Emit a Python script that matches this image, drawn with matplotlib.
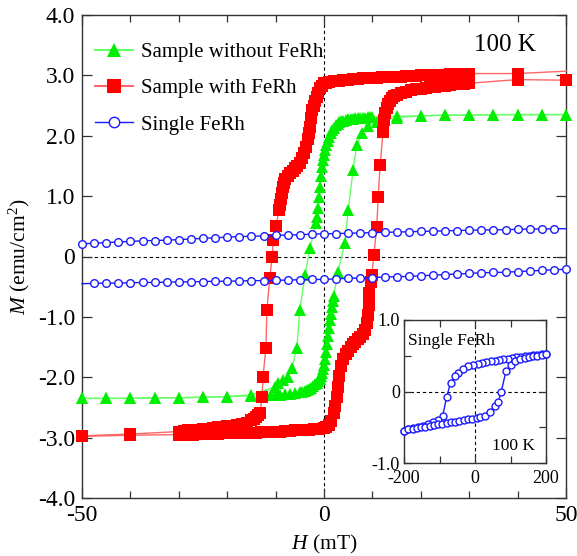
import matplotlib
matplotlib.use("Agg")
import matplotlib.pyplot as plt
from matplotlib.lines import Line2D

plt.rcParams['font.family'] = ['Liberation Serif', 'DejaVu Serif']
plt.rcParams['mathtext.fontset'] = 'custom'
plt.rcParams['mathtext.rm'] = 'Liberation Serif'
plt.rcParams['mathtext.it'] = 'Liberation Serif:italic'

# ---------------- data (H in mT, M in emu/cm^2) ----------------
# Sample without FeRh: descending branch (+50 -> -50)
g_dn_H = [50, 45, 40, 35, 30, 25, 20, 15,
          10, 9.5, 9, 8.5, 8, 7.5, 7, 6.5, 6, 5.5, 5, 4.5, 4, 3.6, 3.2, 2.8, 2.4, 2.0,
          1.7, 1.4, 1.1, 0.8, 0.5, 0.2, 0.0, -0.2, -0.4, -0.6, -0.8, -1.0, -1.2, -1.4, -1.6,
          -2.9, -3.9, -5.0, -5.6, -6.6, -7.4, -8.5, -9.5, -10.1,
          -15, -20, -25, -30, -35, -40, -45, -50]
g_dn_M = [2.35, 2.35, 2.35, 2.35, 2.34, 2.34, 2.33, 2.32,
          2.31, 2.31, 2.31, 2.30, 2.30, 2.30, 2.29, 2.29, 2.28, 2.28, 2.27, 2.26, 2.25, 2.24, 2.22, 2.20, 2.17, 2.13,
          2.09, 2.04, 1.98, 1.91, 1.84, 1.76, 1.68, 1.60, 1.48, 1.33, 1.15, 0.98, 0.80, 0.66, 0.55,
          0.14, -0.30, -0.88, -1.51, -1.84, -1.99, -2.04, -2.09, -2.16,
          -2.29, -2.32, -2.33, -2.34, -2.34, -2.35, -2.35, -2.35]

# Sample without FeRh: ascending branch (-50 -> +50)
g_up_H = [-50, -45, -40, -35, -30, -25, -20, -15,
          -12, -11, -10, -9, -8, -7, -6, -5, -4.5, -4, -3.5, -3, -2.6, -2.2, -1.8, -1.5,
          -1.2, -0.9, -0.6, -0.4, -0.2, 0.0, 0.2, 0.4, 0.6, 0.8, 1.0, 1.2, 1.4, 1.6, 1.8, 2.0,
          2.9, 4.3, 5.0, 6.0, 6.8, 7.9, 9.1, 11.0,
          15, 20, 25, 30, 35, 40, 45, 50]
g_up_M = [-2.35, -2.35, -2.35, -2.34, -2.34, -2.33, -2.32, -2.31,
          -2.30, -2.30, -2.29, -2.29, -2.28, -2.27, -2.26, -2.25, -2.24, -2.23, -2.21, -2.19, -2.17, -2.15, -2.12, -2.10,
          -2.07, -2.03, -1.98, -1.93, -1.87, -1.80, -1.70, -1.58, -1.45, -1.32, -1.18, -1.06, -0.95, -0.84, -0.74, -0.65,
          -0.25, 0.22, 0.77, 1.43, 1.85, 2.05, 2.16, 2.23,
          2.30, 2.33, 2.34, 2.34, 2.35, 2.35, 2.35, 2.35]

# Sample with FeRh: descending branch
r_dn_H = [50, 40,
          30, 29, 28, 27, 26, 25, 24, 23, 22, 21, 20, 19, 18, 17, 16, 15, 14, 13, 12, 11,
          10, 9, 8, 7, 6, 5, 4, 3, 2, 1,
          0.5, 0, -0.4, -0.8, -1.2, -1.5, -1.8, -2.1, -2.4, -2.6, -2.8, -3.1, -3.4, -3.8, -4.2, -4.6,
          -5.0, -5.5, -6.0, -6.5, -7.0, -7.5, -8.0, -8.3, -8.5, -8.7, -8.9, -9.1, -9.3,
          -9.9, -10.5, -10.7, -11.2, -11.8, -12.0, -12.6, -12.8, -13.2,
          -13.6, -14, -14.5, -15, -16, -17, -18, -19, -20, -21, -22, -23, -24, -25, -26, -27, -28, -29, -30,
          -40, -50]
r_dn_M = [3.07, 3.03,
          3.03, 3.03, 3.02, 3.02, 3.02, 3.01, 3.01, 3.01, 3.00, 3.00, 3.00, 2.99, 2.99, 2.99, 2.98, 2.98, 2.97, 2.97, 2.97, 2.96,
          2.96, 2.95, 2.95, 2.94, 2.94, 2.93, 2.92, 2.91, 2.90, 2.89,
          2.88, 2.87, 2.83, 2.79, 2.70, 2.64, 2.58, 2.50, 2.43, 2.30, 2.15, 2.05, 1.95, 1.82, 1.72, 1.63,
          1.55, 1.50, 1.46, 1.42, 1.38, 1.34, 1.29, 1.22, 1.15, 1.05, 0.95, 0.85, 0.77,
          0.51, 0.28, 0.00, -0.35, -0.88, -1.51, -2.00, -2.32, -2.59,
          -2.63, -2.66, -2.69, -2.71, -2.75, -2.77, -2.79, -2.80, -2.81, -2.82, -2.83, -2.84, -2.85, -2.86, -2.87, -2.87, -2.88, -2.89, -2.90,
          -2.94, -2.97]

# Sample with FeRh: ascending branch
r_up_H = [-50, -40,
          -30, -29, -28, -27, -26, -25, -24, -23, -22, -21, -20, -19, -18, -17, -16, -15, -14, -13, -12, -11,
          -10, -9, -8, -7, -6, -5, -4, -3, -2, -1,
          0, 0.5, 1.0, 1.5, 2.0, 2.3, 2.6, 2.9, 3.2, 3.6, 4.0, 4.5, 5.0, 5.5, 6.0, 6.5, 7.0, 7.5, 8.0, 8.4, 8.8, 9.1,
          9.3, 9.4, 9.7, 9.9, 10.3, 10.9, 11.2, 11.6, 12.2,
          12.4, 12.7, 13.0, 13.3, 13.6, 14.0, 14.5, 15, 16, 17, 18, 19, 20, 21, 22, 23, 24, 25, 26, 27, 28, 29, 30,
          40, 50]
r_up_M = [-2.98, -2.96,
          -2.95, -2.95, -2.95, -2.95, -2.94, -2.94, -2.94, -2.94, -2.94, -2.93, -2.93, -2.93, -2.93, -2.92, -2.92, -2.92, -2.92, -2.91, -2.91, -2.90,
          -2.90, -2.90, -2.89, -2.89, -2.88, -2.88, -2.87, -2.87, -2.86, -2.85,
          -2.84, -2.82, -2.79, -2.72, -2.60, -2.48, -2.33, -2.16, -1.98, -1.82, -1.70, -1.62, -1.56, -1.50, -1.45, -1.41, -1.37, -1.33, -1.29, -1.22, -1.10, -0.97,
          -0.80, -0.60, -0.43, -0.30, 0.03, 0.49, 0.99, 1.52, 2.06,
          2.26, 2.38, 2.46, 2.53, 2.58, 2.62, 2.66, 2.68, 2.71, 2.73, 2.75, 2.77, 2.78, 2.79, 2.80, 2.81, 2.82, 2.83, 2.84, 2.85, 2.86, 2.86, 2.87,
          2.93, 2.92]

# Single FeRh, main panel (field step 2.5 mT)
b_H = [-50, -47.5, -45, -42.5, -40, -37.5, -35, -32.5, -30, -27.5, -25, -22.5, -20, -17.5, -15, -12.5,
       -10, -7.5, -5, -2.5, 0, 2.5, 5, 7.5, 10, 12.5, 15, 17.5, 20, 22.5, 25, 27.5, 30, 32.5, 35, 37.5,
       40, 42.5, 45, 47.5, 50]
b_upper_M = [0.21, 0.22, 0.23, 0.24, 0.25, 0.26, 0.265, 0.27, 0.28, 0.29, 0.30, 0.31, 0.32, 0.33, 0.335, 0.34,
             0.35, 0.355, 0.36, 0.37, 0.375, 0.38, 0.385, 0.39, 0.395, 0.40, 0.405, 0.41, 0.415, 0.42, 0.425, 0.43,
             0.435, 0.44, 0.44, 0.445, 0.45, 0.455, 0.455, 0.46, 0.46]
b_lower_M = [-0.45, -0.445, -0.44, -0.44, -0.435, -0.43, -0.43, -0.425, -0.42, -0.42, -0.415, -0.41, -0.41, -0.405, -0.40, -0.40,
             -0.395, -0.39, -0.385, -0.38, -0.38, -0.37, -0.36, -0.355, -0.35, -0.34, -0.335, -0.33, -0.32, -0.31, -0.30, -0.29,
             -0.28, -0.27, -0.265, -0.26, -0.25, -0.24, -0.23, -0.22, -0.21]

# Single FeRh, full loop (inset)
i_dn_H = [200, 188, 176, 164, 152, 140, 128, 116, 104, 92, 80, 68, 56, 44, 32, 20, 8, -5, -19, -33, -47, -57,
          -69, -80, -91, -103, -118, -132, -146, -160, -174, -188, -200]
i_dn_M = [0.52, 0.52, 0.51, 0.51, 0.50, 0.49, 0.48, 0.48, 0.47, 0.46, 0.45, 0.44, 0.43, 0.42, 0.41, 0.40, 0.39,
          0.37, 0.35, 0.32, 0.26, 0.21, 0.12, -0.08, -0.34, -0.40, -0.43, -0.46, -0.48, -0.50, -0.51, -0.53, -0.55]
i_up_H = [-200, -188, -176, -164, -152, -140, -128, -116, -104, -92, -80, -68, -56, -44, -32, -20, -8, 5, 14, 28,
          42, 56, 66, 74, 87, 101, 113, 127, 140, 152, 164, 176, 188, 200]
i_up_M = [-0.55, -0.53, -0.52, -0.51, -0.50, -0.49, -0.48, -0.47, -0.46, -0.45, -0.44, -0.43, -0.42, -0.41, -0.40,
          -0.39, -0.38, -0.37, -0.36, -0.34, -0.28, -0.20, -0.14, 0.00, 0.28, 0.37, 0.42, 0.45, 0.47, 0.48, 0.49,
          0.50, 0.51, 0.52]

x_ticks = [-50, 0, 50]
x_tick_labels = ['-50', '0', '50']
x_minor = [-40, -30, -20, -10, 10, 20, 30, 40]
y_ticks = [-4, -3, -2, -1, 0, 1, 2, 3, 4]
y_tick_labels = ['-4.0', '-3.0', '-2.0', '-1.0', '0', '1.0', '2.0', '3.0', '4.0']
ix_ticks = [-200, 0, 200]
ix_tick_labels = ['-200', '0', '200']
iy_ticks = [-1, 0, 1]
iy_tick_labels = ['-1.0', '0', '1.0']

GREEN = '#00ee00'
GREEN_LINE = '#66ff66'
RED = '#ff0000'
RED_LINE = '#ff6666'
BLUE = '#1a1aff'

W, H = 577, 556
fig = plt.figure(figsize=(W / 100, H / 100), dpi=100)
ax = fig.add_axes([82 / W, 1 - 498 / H, 484 / W, 483 / H])

ax.axhline(0, color='k', lw=0.8, ls=(0, (3, 2.5)), zorder=1)
ax.axvline(0, color='k', lw=0.8, ls=(0, (3, 2.5)), zorder=1)

gkw = dict(color=GREEN_LINE, lw=1.0, marker='^', ms=8, mfc=GREEN, mec=GREEN, mew=0, clip_on=False, zorder=3)
ax.plot(g_dn_H, g_dn_M, **gkw)
ax.plot(g_up_H, g_up_M, **gkw)

rkw = dict(color=RED_LINE, lw=1.0, marker='s', ms=8, mfc=RED, mec=RED, mew=0, clip_on=False, zorder=4)
ax.plot(r_dn_H, r_dn_M, markevery=slice(1, None), **rkw)
ax.plot(r_up_H, r_up_M, **rkw)

bkw = dict(color=BLUE, lw=1.0, marker='o', ms=5.5, mfc='white', mec=BLUE, mew=1.0, clip_on=False, zorder=5)
ax.plot(b_H, b_upper_M, markevery=slice(0, -1), **bkw)
ax.plot(b_H, b_lower_M, markevery=slice(1, None), **bkw)

ax.set_xlim(-50, 50)
ax.set_ylim(-4, 4)
ax.set_xticks(x_ticks)
ax.set_xticklabels(x_tick_labels)
ax.set_xticks(x_minor, minor=True)
ax.set_yticks(y_ticks)
ax.set_yticklabels(y_tick_labels)
ax.tick_params(which='both', direction='in', top=True, right=True, labelsize=17, width=0.9, color='#333333')
ax.tick_params(which='major', length=7)
ax.tick_params(which='minor', length=5)
ax.tick_params(axis='x', which='major', pad=5)
ax.tick_params(axis='y', which='major', pad=5)
for s in ax.spines.values():
    s.set_color('#333333')
    s.set_linewidth(1.0)

ax.set_xlabel('$H$ (mT)', fontsize=15.5, labelpad=5)
ax.set_ylabel('$M$ (emu/cm$^2$)', fontsize=15.5, labelpad=4)

handles = [
    Line2D([], [], color=GREEN_LINE, lw=1.5, marker='^', ms=10, mfc=GREEN, mec=GREEN, mew=0),
    Line2D([], [], color=RED_LINE, lw=1.5, marker='s', ms=10, mfc=RED, mec=RED, mew=0),
    Line2D([], [], color=BLUE, lw=1.0, marker='o', ms=7.5, mfc='white', mec=BLUE, mew=1.0),
]
labels = ['Sample without FeRh', 'Sample with FeRh', 'Single FeRh']
ax.legend(handles, labels, loc='upper left', bbox_to_anchor=(0.0, 0.969), frameon=False,
          fontsize=15, handlelength=1.85, handletextpad=0.4, labelspacing=0.8, borderpad=0.3,
          borderaxespad=0.3)

fig.text(505 / W, 1 - 45 / H, '100 K', ha='center', va='center', fontsize=18)

# inset: full loop of the single FeRh layer
ins = fig.add_axes([404 / W, 1 - 463 / H, 142 / W, 143 / H])
ins.set_facecolor('white')
ins.axhline(0, color='k', lw=0.8, ls=(0, (3, 2.5)), zorder=1)
ins.axvline(0, color='k', lw=0.8, ls=(0, (3, 2.5)), zorder=1)
ikw = dict(color=BLUE, lw=1.0, marker='o', ms=5, mfc='white', mec=BLUE, mew=1.0, clip_on=False, zorder=3)
ins.plot(i_dn_H, i_dn_M, **ikw)
ins.plot(i_up_H, i_up_M, **ikw)
ins.set_xlim(-200, 200)
ins.set_ylim(-1, 1)
ins.set_xticks(ix_ticks)
ins.set_xticklabels(ix_tick_labels)
ins.set_xticks([-100, 100], minor=True)
ins.set_yticks(iy_ticks)
ins.set_yticklabels(iy_tick_labels)
ins.set_yticks([-0.5, 0.5], minor=True)
ins.tick_params(which='both', direction='in', top=True, right=True, labelsize=13, length=5, width=0.9,
                color='#333333', pad=3)
ins.tick_params(axis='x', which='major', pad=5)
for s in ins.spines.values():
    s.set_color('#333333')
    s.set_linewidth(1.0)
fig.text(408 / W, 1 - 341 / H, 'Single FeRh', ha='left', va='center', fontsize=12.5)
fig.text(535 / W, 1 - 446 / H, '100 K', ha='right', va='center', fontsize=12.5)

fig.savefig('out.png', dpi=100)
